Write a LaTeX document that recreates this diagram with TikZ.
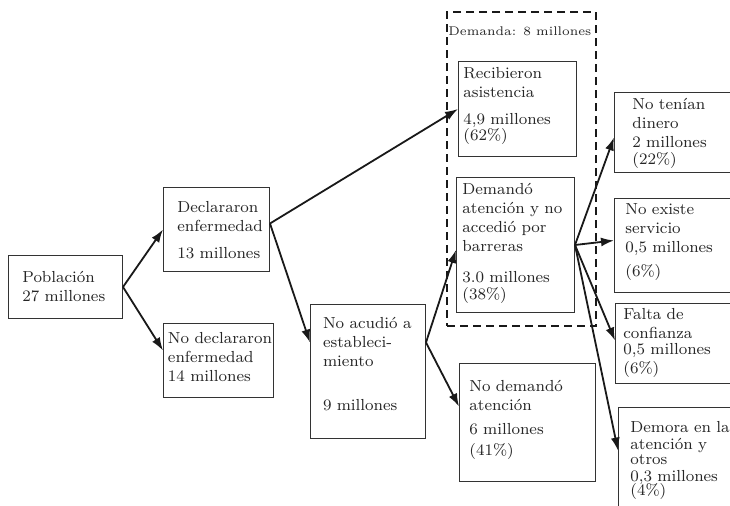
\documentclass[tikz,border=0pt]{standalone}
\usepackage{tikz}
\usetikzlibrary{arrows.meta}
\tikzset{>={Latex[length=6.5pt,width=4.5pt]}}
\tikzset{
  caja/.style={draw=black!80, line width=0.5pt, rectangle, anchor=north west, inner sep=0pt},
  texto/.style={anchor=base west, align=left, inner sep=0pt, text width=80pt, text=black!85,
    font=\fontsize{8}{9.5}\selectfont},
  flecha/.style={->, line width=0.9pt, black!90}
}

\begin{document}
\begin{tikzpicture}[x=0.5pt,y=-0.5pt]
  \useasboundingbox (0,0) rectangle (730,506);
  % cajas
  \node[caja, minimum width=57pt, minimum height=31.5pt] (pob) at (8,255) {};
  \node[caja, minimum width=53pt, minimum height=42pt] (decl) at (163,187) {};
  \node[caja, minimum width=55pt, minimum height=37pt] (nodecl) at (163,323) {};
  \node[caja, minimum width=57.5pt, minimum height=67pt] (acud) at (310,304) {};
  \node[caja, minimum width=59pt, minimum height=47.5pt] (recib) at (458,61) {};
  \node[caja, minimum width=59pt, minimum height=67.5pt] (barr) at (456,177) {};
  \node[caja, minimum width=68pt, minimum height=59pt] (nodem) at (459,363) {};
  \node[caja, minimum width=62.5pt, minimum height=40pt] (dinero) at (614,92) {};
  \node[caja, minimum width=62.5pt, minimum height=47pt] (servicio) at (614,198) {};
  \node[caja, minimum width=62.5pt, minimum height=40pt] (confianza) at (615,303) {};
  \node[caja, minimum width=62.5pt, minimum height=55pt] (demora) at (618,407) {};
  \node[draw=black!90, line width=1.2pt, dash pattern=on 4pt off 2.5pt, anchor=north west, inner sep=0pt,
    minimum width=74.5pt, minimum height=157pt] (demanda) at (446,11) {};
  % textos
  \node[texto] (pobt) at (22,283) {Población\\27 millones};
  \node[texto] (declt) at (177,213) {Declararon\\enfermedad\\[4pt]13 millones};
  \node[texto] (nodeclt) at (167.6,344) {No declararon\\enfermedad\\14 millones};
  \node[texto] (acudt) at (322.6,329) {No acudió a\\estableci-\\miento\\[12.5pt]9 millones};
  \node[texto] (recibt) at (463,79) {Recibieron\\asistencia\\[4pt]4,9 millones\\[-1.5pt](62\%)};
  \node[texto] (barrt) at (462,195) {Demandó\\atención y no\\accedió por\\barreras\\[6pt]3.0 millones\\[-1pt](38\%)};
  \node[texto] (nodemt) at (469,392) {No demandó\\atención\\[2.5pt]6 millones\\[1pt](41\%)};
  \node[texto] (dinerot) at (632,110) {No tenían\\dinero\\2 millones\\[-1pt](22\%)};
  \node[texto] (serviciot) at (625,215) {No existe\\servicio\\0,5 millones\\[2.5pt](6\%)};
  \node[texto] (confianzat) at (623,320) {Falta de\\confianza\\[-1.5pt]0,5 millones\\(6\%)};
  \node[texto] (demorat) at (630,433) {Demora en la\\[-1pt]atención y\\[-2pt]otros\\[-1pt]0,3 millones\\[-2.5pt](4\%)};
  \node[anchor=base west, inner sep=0pt, text=black!85, font=\fontsize{6.3}{7}\selectfont] (demandat) at (448,36) {Demanda: 8 millones};
  % flechas
  \draw[flecha] (pob.east) -- (decl.west);
  \draw[flecha] (pob.east) -- ([yshift=5pt]nodecl.west);
  \draw[flecha] ([yshift=3pt]decl.east) -- (recib.west);
  \draw[flecha] ([yshift=3pt]decl.east) -- ([yshift=14.5pt]acud.west);
  \draw[flecha] ([yshift=14.5pt]acud.east) -- ([yshift=-2.5pt]barr.west);
  \draw[flecha] ([yshift=14.5pt]acud.east) -- ([yshift=8pt]nodem.west);
  \draw[flecha] (barr.east) -- ([yshift=-2.5pt]dinero.west);
  \draw[flecha] (barr.east) -- ([yshift=2.5pt]servicio.west);
  \draw[flecha] (barr.east) -- ([yshift=1.5pt]confianza.west);
  \draw[flecha] (barr.east) -- ([yshift=6pt]demora.west);
\end{tikzpicture}
\end{document}
